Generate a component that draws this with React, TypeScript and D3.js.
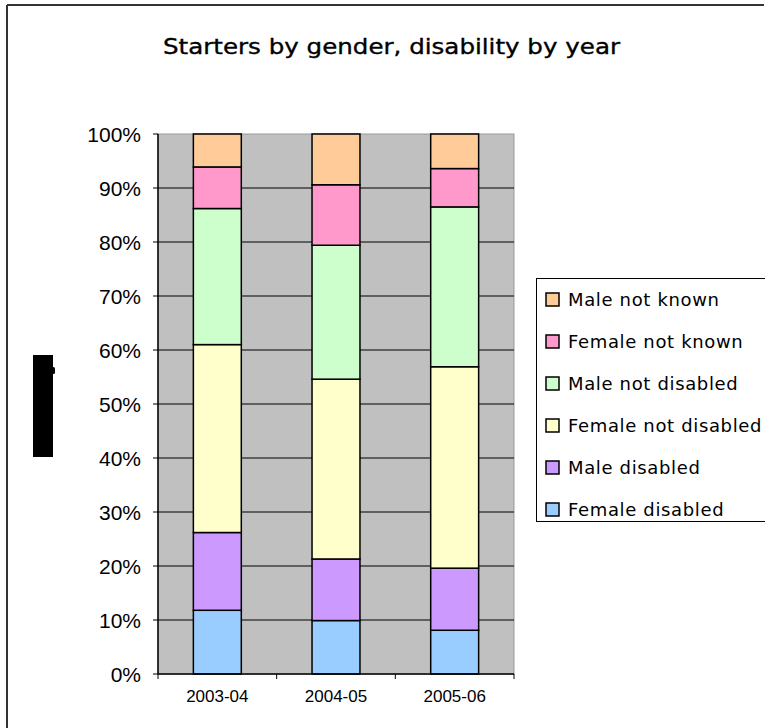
import React from "react";
import * as d3 from "d3";

const years = ["2003-04", "2004-05", "2005-06"];
const seriesNames = [
  "Female disabled",
  "Male disabled",
  "Female not disabled",
  "Male not disabled",
  "Female not known",
  "Male not known",
];
const femaleDisabled = [11.8, 9.9, 8.1];
const maleDisabled = [14.4, 11.4, 11.5];
const femaleNotDisabled = [34.8, 33.3, 37.3];
const maleNotDisabled = [25.2, 24.8, 29.6];
const femaleNotKnown = [7.7, 11.2, 7.1];
const maleNotKnown = [6.1, 9.4, 6.4];
const seriesColors = ["#99CCFF", "#CC99FF", "#FFFFCC", "#CCFFCC", "#FF99CC", "#FFCC99"];
const yTicks = [0, 0.1, 0.2, 0.3, 0.4, 0.5, 0.6, 0.7, 0.8, 0.9, 1.0];

export default function App() {
  const W = 765, H = 728;
  const left = 158, right = 514, top = 134, bottom = 674;
  const seriesValues = [femaleDisabled, maleDisabled, femaleNotDisabled, maleNotDisabled, femaleNotKnown, maleNotKnown];
  const rows = years.map((y, i) => {
    const r: any = { year: y };
    const total = d3.sum(seriesValues, (s) => s[i]);
    seriesNames.forEach((n, k) => (r[n] = seriesValues[k][i] / total));
    return r;
  });
  const stacked = d3.stack().keys(seriesNames)(rows);
  const x = d3.scaleBand().domain(years).range([left, right]).paddingInner(0.596).paddingOuter(0.298);
  const xb = d3.scaleBand().domain(years).range([left, right]);
  const y = d3.scaleLinear().domain([0, 1]).range([bottom, top]);
  const fmt = d3.format(".0%");
  const legendOrder = [...seriesNames].reverse();
  return (
    <svg width={W} height={H} style={{ position: "absolute", left: 0, top: 0 }}>
      <rect x={0} y={0} width={W} height={H} fill="#fff" />
      <line x1={7} y1={5} x2={764} y2={5} stroke="#333" strokeWidth={2} />
      <line x1={7} y1={5} x2={7} y2={H} stroke="#333" strokeWidth={2} />
      <text x={391.5} y={54} textAnchor="middle" fontFamily="DejaVu Sans" fontSize={21} fill="#000" stroke="#000" strokeWidth={0.35} textLength={457} lengthAdjust="spacingAndGlyphs">
        Starters by gender, disability by year
      </text>
      <rect x={left} y={top} width={right - left} height={bottom - top} fill="#C0C0C0" stroke="#999" strokeWidth={1} />
      {yTicks.map((t) => (
        <g key={t}>
          {t > 0 && t < 1 && <line x1={left} x2={right} y1={y(t)} y2={y(t)} stroke="#000" strokeWidth={1} />}
          <line x1={left - 5} x2={left} y1={y(t)} y2={y(t)} stroke="#000" strokeWidth={1} />
          <text x={141} y={y(t)} dy="0.36em" textAnchor="end" fontFamily="Liberation Sans, Arial" fontSize={21} fill="#000">
            {fmt(t)}
          </text>
        </g>
      ))}
      {stacked.map((s, k) => (
        <g key={k}>
          {s.map((d: any, i: number) => (
            <rect key={i} x={x(years[i])} y={y(d[1])} width={x.bandwidth()} height={y(d[0]) - y(d[1])} fill={seriesColors[k]} stroke="#000" strokeWidth={1.5} />
          ))}
        </g>
      ))}
      <line x1={left} x2={left} y1={top} y2={bottom} stroke="#000" strokeWidth={1.5} />
      <line x1={left} x2={right} y1={bottom} y2={bottom} stroke="#000" strokeWidth={1.5} />
      {[...years.map((yy) => xb(yy) as number), right].map((v, i) => (
        <line key={i} x1={v} x2={v} y1={bottom} y2={bottom + 5} stroke="#000" strokeWidth={1} />
      ))}
      {years.map((yy) => (
        <text key={yy} x={(xb(yy) as number) + xb.bandwidth() / 2} y={702} textAnchor="middle" fontFamily="Liberation Sans, Arial" fontSize={17} fill="#000">
          {yy}
        </text>
      ))}
      <rect x={536.5} y={278.5} width={240} height={243} fill="#fff" stroke="#000" strokeWidth={1} />
      {legendOrder.map((n, i) => {
        const k = seriesNames.indexOf(n);
        const cy = 299.5 + i * 42;
        return (
          <g key={n}>
            <rect x={546} y={cy - 6.5} width={13} height={13} fill={seriesColors[k]} stroke="#000" strokeWidth={1.5} />
            <text x={568} y={cy} dy="0.36em" fontFamily="DejaVu Sans" fontSize={18} letterSpacing={0.65} fill="#000">
              {n}
            </text>
          </g>
        );
      })}
      <rect x={33} y={355} width={20} height={102} fill="#000" />
      <rect x={52} y={367} width={3} height={7} fill="#000" rx={1.5} />
    </svg>
  );
}
